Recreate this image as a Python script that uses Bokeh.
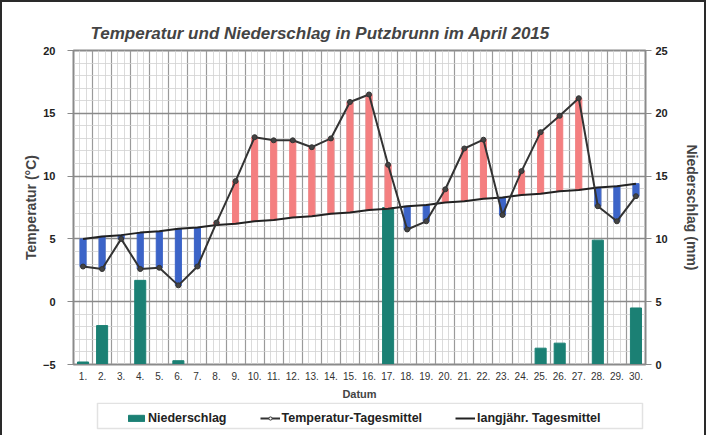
from bokeh.plotting import figure
from bokeh.layouts import column
from bokeh.models import (Range1d, LinearAxis, FixedTicker, Legend, LegendItem,
                          ColumnDataSource, BoxAnnotation)
from bokeh.embed import file_html
from bokeh.resources import INLINE

# ---- data ----
days = list(range(1, 31))
day_labels = [f"{d}." for d in days]
temp_mean = [2.8, 2.6, 5.0, 2.6, 2.7, 1.3, 2.8, 6.3, 9.6, 13.1,
             12.85, 12.85, 12.3, 13.0, 15.9, 16.5, 10.9, 5.75, 6.4, 8.95,
             12.2, 12.9, 6.9, 10.4, 13.5, 14.8, 16.2, 7.6, 6.4, 8.4]
longterm_mean = [5.0, 5.2, 5.3, 5.5, 5.6, 5.8, 5.9, 6.1, 6.2, 6.4,
                 6.5, 6.7, 6.8, 7.0, 7.1, 7.3, 7.4, 7.6, 7.7, 7.9,
                 8.0, 8.2, 8.3, 8.5, 8.6, 8.8, 8.9, 9.1, 9.2, 9.4]
precip = [0.2, 3.1, 0.0, 6.7, 0.0, 0.3, 0.0, 0.0, 0.0, 0.0,
          0.0, 0.0, 0.0, 0.0, 0.0, 0.0, 12.5, 0.0, 0.0, 0.0,
          0.0, 0.0, 0.0, 0.0, 1.3, 1.7, 0.0, 9.9, 0.0, 4.5]
temp_ticks = [-5, 0, 5, 10, 15, 20]
rain_ticks = [0, 5, 10, 15, 20, 25]
legend_labels = ["Niederschlag", "Temperatur-Tagesmittel", "langjähr. Tagesmittel"]

title_text = "Temperatur und Niederschlag in Putzbrunn im April 2015"

FONT = "Liberation Sans"
RED = "#f47f80"
BLUE = "#3c64c8"
TEAL = "#1b8074"

p = figure(width=702, height=400, x_range=Range1d(0.5, 30.5), y_range=Range1d(-5, 20),
           output_backend="svg", toolbar_location=None,
           min_border_left=71, min_border_right=59, min_border_top=48, min_border_bottom=36)
p.extra_y_ranges = {"rain": Range1d(0, 25)}
p.background_fill_color = "white"
p.border_fill_color = "white"
p.outline_line_color = "#8a8a8a"
p.outline_line_width = 2

# title
p.title.text = title_text
p.title.text_font = FONT
p.title.text_font_style = "bold italic"
p.title.text_font_size = "17px"
p.title.align = "left"
p.title.offset = 17
p.title.standoff = 16

# grids
p.xgrid.ticker = FixedTicker(ticks=[d - 0.5 for d in days] + [30.5],
                             minor_ticks=[d - 0.5 + k / 3 for d in days for k in (1, 2)])
p.xgrid.grid_line_color = "#9a9a9a"
p.xgrid.grid_line_width = 1.2
p.xgrid.minor_grid_line_color = "#d2d2d2"
p.xgrid.minor_grid_line_width = 0.8
p.ygrid.ticker = FixedTicker(ticks=temp_ticks, minor_ticks=list(range(-5, 21)))
p.ygrid.grid_line_color = "#8a8a8a"
p.ygrid.grid_line_width = 1.4
p.ygrid.minor_grid_line_color = "#d2d2d2"
p.ygrid.minor_grid_line_width = 0.8

# precipitation bars
p.vbar(x=days, top=precip, bottom=0, width=0.58, color=TEAL, y_range_name="rain")

# anomaly bars
src = ColumnDataSource(dict(
    x=days,
    bottom=[min(t, l) for t, l in zip(temp_mean, longterm_mean)],
    top=[max(t, l) for t, l in zip(temp_mean, longterm_mean)],
    color=[RED if t > l else BLUE for t, l in zip(temp_mean, longterm_mean)],
))
p.vbar(x="x", bottom="bottom", top="top", width=0.32, color="color", source=src)

p.line(days, longterm_mean, line_color="#222222", line_width=2)
p.line(days, temp_mean, line_color="#333333", line_width=2)
p.scatter(days, temp_mean, size=5, fill_color="#444444", line_color="#333333")

# axes
xa = p.xaxis[0]
xa.ticker = FixedTicker(ticks=days)
xa.major_label_overrides = {d: lab for d, lab in zip(days, day_labels)}
xa.axis_label = "Datum"
xa.axis_label_text_font = FONT
xa.axis_label_text_font_style = "bold"
xa.axis_label_text_font_size = "11px"
xa.axis_label_standoff = 5
xa.major_label_text_font = FONT
xa.major_label_text_font_size = "10px"
xa.major_label_text_color = "#333333"
xa.major_label_standoff = 7
xa.major_tick_out = 0
xa.major_tick_in = 0
xa.minor_tick_out = 0
xa.minor_tick_in = 0
xa.axis_line_color = "#8a8a8a"

ya = p.yaxis[0]
ya.ticker = FixedTicker(ticks=temp_ticks)
ya.axis_label = "Temperatur (°C)"
ya.axis_label_text_font = FONT
ya.axis_label_text_font_style = "bold"
ya.axis_label_text_font_size = "14px"
ya.axis_label_standoff = 1
ya.major_label_text_font = FONT
ya.major_label_text_font_style = "bold"
ya.major_label_text_font_size = "11px"
ya.major_label_text_color = "#222222"
ya.major_label_standoff = 12
ya.major_tick_out = 6
ya.major_tick_in = 0
ya.minor_tick_out = 0
ya.minor_tick_in = 0
ya.major_tick_line_color = "#8a8a8a"
ya.axis_line_color = "#8a8a8a"

ra = LinearAxis(y_range_name="rain", ticker=FixedTicker(ticks=rain_ticks))
ra.axis_label = "Niederschlag (mm)"
ra.axis_label_text_font = FONT
ra.axis_label_text_font_style = "bold"
ra.axis_label_text_font_size = "14px"
ra.axis_label_standoff = 13
ra.major_label_text_font = FONT
ra.major_label_text_font_style = "bold"
ra.major_label_text_font_size = "11px"
ra.major_label_text_color = "#222222"
ra.major_label_standoff = 4
ra.major_tick_out = 6
ra.major_tick_in = 0
ra.minor_tick_out = 0
ra.minor_tick_in = 0
ra.major_tick_line_color = "#8a8a8a"
ra.axis_line_color = "#8a8a8a"
p.add_layout(ra, "right")

# ---- legend strip (separate small figure below; its frame aligns with the plot frame) ----
lf = figure(width=702, height=33, x_range=Range1d(73, 645), y_range=Range1d(0, 33),
            output_backend="svg", toolbar_location=None,
            x_axis_location=None, y_axis_location=None,
            min_border_left=71, min_border_right=59, min_border_top=0, min_border_bottom=0)
lf.grid.visible = False
lf.outline_line_color = None
lf.background_fill_color = "white"
lf.border_fill_color = "white"
# legend sample glyphs (kept outside the visible range; only their legend swatches show)
r_prec = lf.vbar(x=[-100], top=[-100], bottom=[-101], width=1, color=TEAL)
r_tl = lf.line(x=[-100, -99], y=[-100, -100], line_color="#333333", line_width=2)
r_tp = lf.scatter(x=[-100], y=[-100], size=5, fill_color="white", line_color="#333333")
r_lt = lf.line(x=[-100, -99], y=[-100, -100], line_color="#222222", line_width=2)

lf.add_layout(BoxAnnotation(left=97, right=642, bottom=7, top=32.2,
                            fill_color=None, line_color="#a0a0a0", line_width=1.5))

legend = Legend(items=[
    LegendItem(label=legend_labels[0], renderers=[r_prec]),
    LegendItem(label=legend_labels[1], renderers=[r_tl, r_tp]),
    LegendItem(label=legend_labels[2], renderers=[r_lt]),
], orientation="horizontal", location=(53, 10))
legend.label_text_font = FONT
legend.label_text_font_style = "bold"
legend.label_text_font_size = "12.5px"
legend.label_text_color = "#222222"
legend.glyph_width = 20
legend.glyph_height = 8
legend.label_standoff = 2
legend.spacing = 33
legend.padding = 4
legend.margin = 0
legend.border_line_color = None
legend.background_fill_color = None
legend.label_height = 12
lf.add_layout(legend, "center")

layout = column(p, lf, spacing=0, styles={"border": "2px solid #2a2a2a"})
open("out.html", "w").write(file_html(layout, INLINE))
